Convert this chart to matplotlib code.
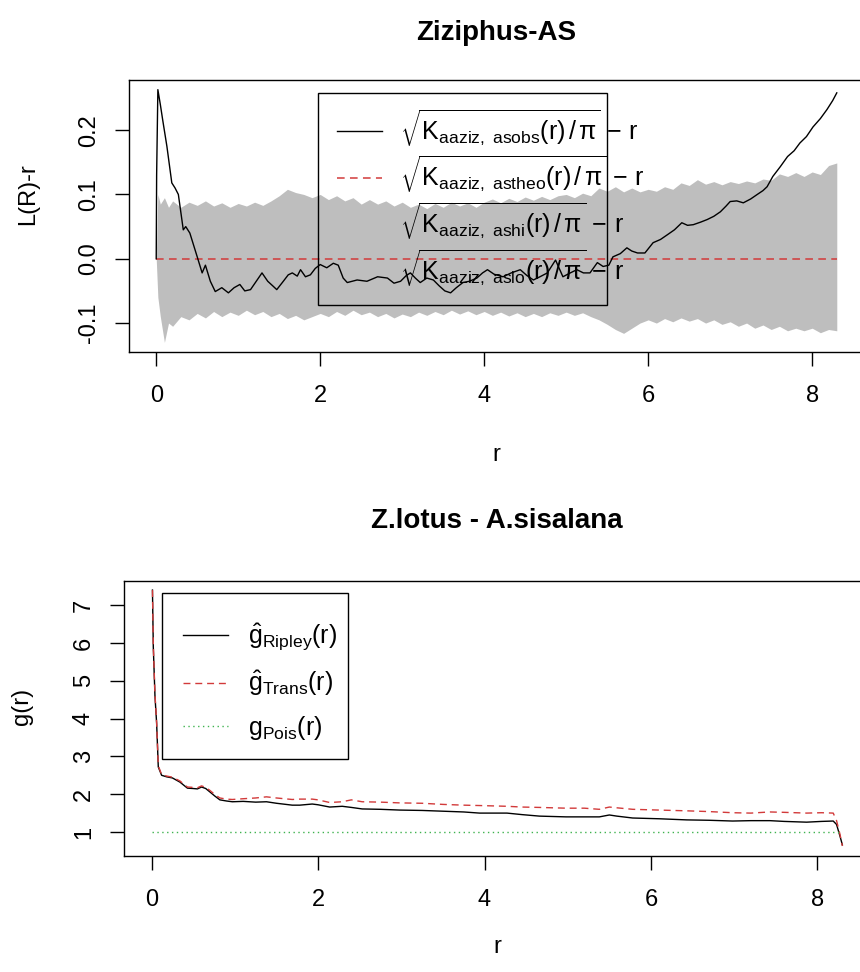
import matplotlib
matplotlib.use("Agg")
import matplotlib.pyplot as plt
from matplotlib.lines import Line2D
from matplotlib.patches import Rectangle

plt.rcParams['font.family'] = ['Liberation Sans', 'DejaVu Sans']
plt.rcParams['mathtext.fontset'] = 'custom'
plt.rcParams['mathtext.rm'] = 'Liberation Sans'
plt.rcParams['mathtext.it'] = 'Liberation Sans'
plt.rcParams['mathtext.bf'] = 'Liberation Sans:bold'

# --- top panel: L-function envelope ---
r_env = [0.0, 0.02, 0.05, 0.1, 0.15, 0.2, 0.3, 0.4, 0.5, 0.6, 0.7, 0.8, 0.9, 1.0,
         1.1, 1.2, 1.3, 1.4, 1.5, 1.6, 1.7, 1.8, 1.9, 2.0, 2.1, 2.2, 2.3, 2.4, 2.5,
         2.6, 2.7, 2.8, 2.9, 3.0, 3.1, 3.2, 3.3, 3.4, 3.5, 3.6, 3.7, 3.8, 3.9, 4.0,
         4.1, 4.2, 4.3, 4.4, 4.5, 4.6, 4.7, 4.8, 4.9, 5.0, 5.1, 5.2, 5.3, 5.4, 5.5,
         5.6, 5.7, 5.8, 5.9, 6.0, 6.1, 6.2, 6.3, 6.4, 6.5, 6.6, 6.7, 6.8, 6.9, 7.0,
         7.1, 7.2, 7.3, 7.4, 7.5, 7.6, 7.7, 7.8, 7.9, 8.0, 8.1, 8.2, 8.3]
env_hi = [0.0, 0.100, 0.085, 0.095, 0.080, 0.090, 0.080, 0.088, 0.083, 0.090, 0.082,
          0.087, 0.080, 0.086, 0.082, 0.088, 0.083, 0.090, 0.098, 0.108, 0.103, 0.100,
          0.095, 0.100, 0.092, 0.098, 0.090, 0.095, 0.085, 0.092, 0.085, 0.090, 0.082,
          0.088, 0.080, 0.085, 0.078, 0.086, 0.080, 0.088, 0.082, 0.087, 0.080, 0.088,
          0.093, 0.087, 0.094, 0.089, 0.096, 0.091, 0.097, 0.092, 0.098, 0.100, 0.095,
          0.102, 0.098, 0.110, 0.105, 0.112, 0.104, 0.110, 0.104, 0.108, 0.105, 0.112,
          0.108, 0.118, 0.114, 0.123, 0.116, 0.120, 0.115, 0.120, 0.117, 0.121, 0.118,
          0.124, 0.122, 0.132, 0.128, 0.134, 0.128, 0.135, 0.131, 0.145, 0.149]
env_lo = [0.0, -0.060, -0.090, -0.130, -0.100, -0.105, -0.090, -0.095, -0.085, -0.092,
          -0.082, -0.090, -0.083, -0.088, -0.080, -0.087, -0.082, -0.090, -0.085, -0.093,
          -0.088, -0.095, -0.090, -0.085, -0.090, -0.082, -0.088, -0.080, -0.087, -0.083,
          -0.090, -0.085, -0.092, -0.086, -0.090, -0.083, -0.088, -0.082, -0.087, -0.080,
          -0.086, -0.081, -0.087, -0.082, -0.088, -0.083, -0.089, -0.084, -0.090, -0.085,
          -0.090, -0.084, -0.088, -0.083, -0.088, -0.084, -0.090, -0.095, -0.102, -0.110,
          -0.116, -0.108, -0.100, -0.095, -0.100, -0.093, -0.098, -0.092, -0.097, -0.093,
          -0.100, -0.095, -0.102, -0.098, -0.105, -0.100, -0.108, -0.103, -0.110, -0.105,
          -0.112, -0.108, -0.112, -0.108, -0.115, -0.110, -0.112]

r_obs = [0.0, 0.005, 0.02, 0.05, 0.08, 0.13, 0.19, 0.23, 0.27, 0.33, 0.36, 0.41, 0.5,
         0.56, 0.6, 0.66, 0.72, 0.8, 0.88, 0.95, 1.02, 1.08, 1.15, 1.22, 1.29, 1.36,
         1.42, 1.47, 1.55, 1.61, 1.66, 1.72, 1.76, 1.82, 1.88, 1.94, 2.0, 2.08, 2.16,
         2.22, 2.28, 2.33, 2.45, 2.57, 2.7, 2.82, 2.9, 2.98, 3.05, 3.1, 3.16, 3.22, 3.3,
         3.38, 3.45, 3.52, 3.59, 3.66, 3.74, 3.82, 3.91, 3.98, 4.04, 4.12, 4.23, 4.33,
         4.44, 4.52, 4.6, 4.68, 4.77, 4.87, 4.96, 5.05, 5.13, 5.21, 5.29, 5.38, 5.45,
         5.52, 5.57, 5.66, 5.74, 5.8, 5.87, 5.96, 6.06, 6.15, 6.23, 6.32, 6.41, 6.48,
         6.55, 6.64, 6.72, 6.8, 6.88, 6.95, 7.0, 7.08, 7.16, 7.25, 7.33, 7.4, 7.45,
         7.52, 7.61, 7.7, 7.78, 7.85, 7.93, 8.01, 8.1, 8.18, 8.25, 8.3]
L_obs = [0.0, 0.13, 0.263, 0.24, 0.215, 0.175, 0.118, 0.11, 0.1, 0.045, 0.05, 0.04,
         0.003, -0.022, -0.01, -0.035, -0.051, -0.045, -0.053, -0.045, -0.04, -0.05,
         -0.048, -0.035, -0.022, -0.035, -0.042, -0.048, -0.035, -0.025, -0.022, -0.027,
         -0.017, -0.028, -0.025, -0.015, -0.009, -0.014, -0.007, -0.01, -0.03, -0.037,
         -0.033, -0.035, -0.028, -0.03, -0.038, -0.035, -0.026, -0.022, -0.03, -0.037,
         -0.03, -0.033, -0.042, -0.05, -0.053, -0.045, -0.037, -0.035, -0.03, -0.022,
         -0.017, -0.024, -0.028, -0.022, -0.017, -0.026, -0.033, -0.028, -0.022, -0.002,
         -0.028, -0.022, -0.017, -0.022, -0.022, -0.006, -0.012, -0.01, 0.003, 0.008,
         0.017, 0.012, 0.009, 0.009, 0.025, 0.03, 0.037, 0.045, 0.056, 0.052, 0.053,
         0.057, 0.061, 0.066, 0.073, 0.082, 0.089, 0.09, 0.087, 0.093, 0.1, 0.106, 0.112,
         0.128, 0.143, 0.159, 0.168, 0.18, 0.19, 0.205, 0.218, 0.232, 0.246, 0.258]
r_theo = [0.0, 8.3]
L_theo = [0.0, 0.0]

# --- bottom panel: pair correlation ---
r_g = [0.01, 0.02, 0.04, 0.06, 0.08, 0.12, 0.18, 0.25, 0.34, 0.43, 0.5, 0.55, 0.6,
       0.65, 0.7, 0.76, 0.82, 0.9, 0.97, 1.1, 1.25, 1.38, 1.5, 1.69, 1.78, 1.93, 2.0,
       2.14, 2.29, 2.4, 2.53, 2.75, 2.98, 3.25, 3.5, 3.75, 3.94, 4.27, 4.45, 4.66,
       4.98, 5.2, 5.38, 5.5, 5.59, 5.78, 6.1, 6.43, 6.7, 6.98, 7.2, 7.43, 7.6, 7.87,
       8.05, 8.19, 8.23, 8.27, 8.3]
g_ripley = [7.4, 5.9, 4.6, 3.88, 2.72, 2.5, 2.46, 2.43, 2.32, 2.16, 2.15, 2.14, 2.19,
            2.15, 2.06, 1.95, 1.85, 1.82, 1.8, 1.81, 1.79, 1.8, 1.76, 1.71, 1.71, 1.74,
            1.72, 1.66, 1.68, 1.65, 1.61, 1.6, 1.58, 1.57, 1.55, 1.53, 1.5, 1.5, 1.46,
            1.42, 1.4, 1.4, 1.4, 1.45, 1.42, 1.37, 1.35, 1.32, 1.31, 1.29, 1.3, 1.3,
            1.28, 1.26, 1.28, 1.29, 1.2, 0.9, 0.66]
g_trans = [7.4, 5.95, 4.65, 3.9, 2.75, 2.52, 2.48, 2.45, 2.35, 2.19, 2.18, 2.17, 2.22,
           2.18, 2.1, 1.99, 1.9, 1.87, 1.86, 1.88, 1.9, 1.93, 1.9, 1.86, 1.87, 1.87,
           1.85, 1.78, 1.8, 1.85, 1.8, 1.79, 1.77, 1.76, 1.73, 1.71, 1.7, 1.68, 1.66,
           1.65, 1.63, 1.63, 1.6, 1.66, 1.64, 1.6, 1.58, 1.56, 1.54, 1.51, 1.5, 1.53,
           1.52, 1.5, 1.51, 1.5, 1.3, 0.95, 0.63]
r_pois = [0.0, 8.3]
g_pois = [1.0, 1.0]

x_ticks = [0, 2, 4, 6, 8]
L_ticks = [-0.1, 0.0, 0.1, 0.2]
L_ticklabels = ["-0.1", "0.0", "0.1", "0.2"]
g_ticks = [1, 2, 3, 4, 5, 6, 7]

RED = '#d23a3a'
GREEN = '#3fb34f'
GREY = '#bebebe'
FS = 17


def style_axes(ax):
    ax.tick_params(direction='out', length=10, width=1, labelsize=FS)
    ax.tick_params(axis='x', pad=14)
    ax.tick_params(axis='y', pad=11)
    for sp in ax.spines.values():
        sp.set_linewidth(1.0)
    plt.setp(ax.get_yticklabels(), rotation=90, va='center')


def legend_box(ax, x0, y0, x1, y1):
    ax.add_patch(Rectangle((x0, y0), x1 - x0, y1 - y0, transform=ax.transAxes,
                           fill=False, edgecolor='black', lw=1.0, zorder=5))


fig = plt.figure(figsize=(8.6, 9.72), dpi=100)

# top panel
ax1 = fig.add_axes([129 / 860, 1 - 352 / 972, 735 / 860, 272 / 972])
ax1.fill_between(r_env, env_lo, env_hi, color=GREY, linewidth=0)
ax1.plot(r_theo, L_theo, color=RED, lw=1.1, dashes=(5, 3.5))
ax1.plot(r_obs, L_obs, color='black', lw=1.0)
ax1.set_xlim(-0.332, 8.632)
ax1.set_ylim(-0.145, 0.278)
ax1.set_xticks(x_ticks)
ax1.set_yticks(L_ticks)
ax1.set_yticklabels(L_ticklabels)
style_axes(ax1)
ax1.set_xlabel("r", fontsize=FS)
ax1.xaxis.set_label_coords(0.5, -0.34)
ax1.set_ylabel("L(R)-r", fontsize=FS)
ax1.yaxis.set_label_coords(-0.122, 0.58)
ax1.set_title("Ziziphus-AS", fontsize=20, fontweight='bold', pad=29)

top_labels = [
    r'$\sqrt{\mathrm{K}_{\mathrm{aaziz,\ asobs}}(\mathrm{r})\,/\,\pi}\,-\,\mathrm{r}$',
    r'$\sqrt{\mathrm{K}_{\mathrm{aaziz,\ astheo}}(\mathrm{r})\,/\,\pi}\,-\,\mathrm{r}$',
    r'$\sqrt{\mathrm{K}_{\mathrm{aaziz,\ ashi}}(\mathrm{r})\,/\,\pi}\,-\,\mathrm{r}$',
    r'$\sqrt{\mathrm{K}_{\mathrm{aaziz,\ aslo}}(\mathrm{r})\,/\,\pi}\,-\,\mathrm{r}$',
]
top_handles = [
    Line2D([], [], color='black', lw=1.0),
    Line2D([], [], color=RED, lw=1.1, dashes=(5, 3.5)),
    Line2D([], [], linestyle='none'),
    Line2D([], [], linestyle='none'),
]
ax1.legend(top_handles, top_labels, loc='upper left',
           bbox_to_anchor=(0.283, 0.90), borderaxespad=0, borderpad=0,
           fontsize=18, handlelength=1.8, handletextpad=0.7,
           labelspacing=0.21, frameon=False)
legend_box(ax1, 0.257, 0.173, 0.650, 0.952)

# bottom panel
ax2 = fig.add_axes([124 / 860, 1 - 856 / 972, 746 / 860, 275 / 972])
ax2.plot(r_g, g_ripley, color='black', lw=1.0, label=r'$\hat{\mathrm{g}}_{\mathrm{Ripley}}(\mathrm{r})$')
ax2.plot(r_g, g_trans, color=RED, lw=1.0, dashes=(5, 3.5), label=r'$\hat{\mathrm{g}}_{\mathrm{Trans}}(\mathrm{r})$')
ax2.plot(r_pois, g_pois, color=GREEN, lw=1.0, dashes=(1, 2.5), label=r'$\mathrm{g}_{\mathrm{Pois}}(\mathrm{r})$')
ax2.set_xlim(-0.332, 8.632)
ax2.set_ylim(0.365, 7.64)
ax2.set_xticks(x_ticks)
ax2.set_yticks(g_ticks)
style_axes(ax2)
ax2.set_xlabel("r", fontsize=FS)
ax2.xaxis.set_label_coords(0.5, -0.29)
ax2.set_ylabel("g(r)", fontsize=FS)
ax2.yaxis.set_label_coords(-0.122, 0.545)
ax2.set_title("Z.lotus - A.sisalana", fontsize=20, fontweight='bold', pad=38)
ax2.legend(loc='upper left', bbox_to_anchor=(0.079, 0.852), borderaxespad=0,
           borderpad=0, fontsize=18, handlelength=1.8, handletextpad=0.8,
           labelspacing=0.63, frameon=False)
legend_box(ax2, 0.051, 0.353, 0.300, 0.956)

fig.savefig("out.png", dpi=100)
